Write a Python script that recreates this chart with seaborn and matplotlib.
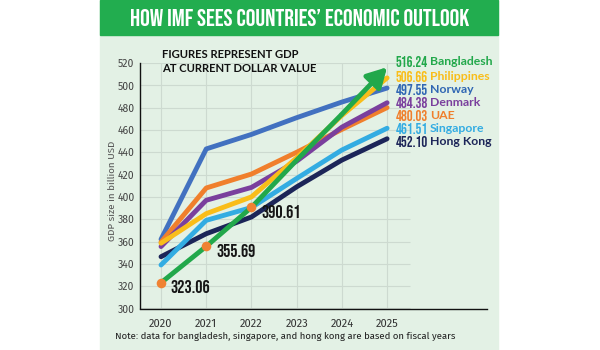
import matplotlib
matplotlib.use("Agg")
import matplotlib.pyplot as plt
import seaborn as sns
import pandas as pd
from matplotlib import font_manager as fm
from matplotlib.patches import Rectangle

# ---------------- data ----------------
years = [2020, 2021, 2022, 2023, 2024, 2025]
bangladesh = [323.06, 355.69, 390.61, 432.9, 474.1, 516.24]
philippines = [358.5, 385.0, 400.0, 435.0, 473.0, 506.66]
norway = [362.0, 443.0, 456.0, 471.0, 485.0, 497.55]
denmark = [355.5, 397.0, 408.5, 432.0, 462.5, 484.38]
uae = [359.5, 408.0, 420.5, 440.0, 460.5, 480.03]
singapore = [339.0, 379.0, 390.5, 416.5, 442.0, 461.51]
hong_kong = [346.4, 367.0, 382.0, 409.0, 433.0, 452.10]
label_order = ["Bangladesh", "Philippines", "Norway", "Denmark", "UAE", "Singapore", "Hong Kong"]
y_ticks = [300, 320, 340, 360, 380, 400, 420, 440, 460, 480, 500, 520]

title = "HOW IMF SEES COUNTRIES\u2019 ECONOMIC OUTLOOK"
subtitle = "FIGURES REPRESENT GDP\nAT CURRENT DOLLAR VALUE"
y_label = "GDP size in billion USD"
note = "Note: data for bangladesh, singapore, and hong kong are based on fiscal years"

series = {
    "Norway": norway,
    "Hong Kong": hong_kong,
    "Singapore": singapore,
    "UAE": uae,
    "Denmark": denmark,
    "Philippines": philippines,
    "Bangladesh": bangladesh,
}
colors = {
    "Bangladesh": "#22a84b",
    "Philippines": "#f9bd19",
    "Norway": "#4271c0",
    "Denmark": "#7a3f9d",
    "UAE": "#f07f2c",
    "Singapore": "#33ace2",
    "Hong Kong": "#1c2558",
}
label_text_colors = dict(colors)
label_text_colors["Norway"] = "#2f66b3"
DOT = "#f08233"
BG = "#e3f1e5"
BAR = "#22ad4f"
GRID = "#cddad0"

# ---------------- fonts ----------------
def _w(x):
    if isinstance(x, int):
        return x
    return {"normal": 400, "regular": 400, "book": 400, "medium": 500,
            "semibold": 600, "demibold": 600, "bold": 700, "heavy": 800,
            "extra bold": 800, "black": 900}.get(str(x).lower(), 400)

weights = {}
for f in fm.fontManager.ttflist:
    if f.style == "normal" and f.stretch == "normal":
        weights.setdefault(f.name, set()).add(_w(f.weight))

def pick(cands, need):
    for n in cands:
        if n in weights and need in weights[n]:
            return n
    return "DejaVu Sans"

CONDENSED = pick(["Bebas Neue", "Oswald", "Barlow Condensed"], 400)
SANS = pick(["Source Sans 3", "Source Sans Pro", "Fira Sans", "Open Sans", "Noto Sans"], 400)
HEAVY = pick(["Montserrat", "Lato", "Open Sans", "Roboto", "Noto Sans"], 700)

W, H = 600, 350
fig = plt.figure(figsize=(W / 100, H / 100), dpi=100)
fig.patch.set_facecolor("white")

def fx(px):
    return px / W

def fy(py):
    return 1 - py / H

fig.patches.append(Rectangle((fx(100), 0), fx(498) - fx(100), 1,
                             transform=fig.transFigure, color=BG, zorder=-5))
fig.patches.append(Rectangle((fx(100), fy(35)), fx(498) - fx(100), 35 / H,
                             transform=fig.transFigure, color=BAR, zorder=-4))

ax = fig.add_axes([fx(140), fy(308.5), fx(487) - fx(140), (308.5 - 63) / H])
ax.set_facecolor(BG)

# grid (only up to the last year)
x0, x1 = 2019.535, 2027.21
ax.hlines(y_ticks, x0, years[-1] + 0.5, color=GRID, lw=0.8, zorder=0.5)
ax.vlines(years, y_ticks[0], y_ticks[-1], color=GRID, lw=0.8, zorder=0.5)

rows = []
for name, vals in series.items():
    for yr, v in zip(years, vals):
        rows.append({"country": name, "year": yr, "gdp": v})
df = pd.DataFrame(rows)

for i, name in enumerate(series):
    sub = df[df["country"] == name]
    if name == "Bangladesh":
        sub = sub.iloc[:-1]
        cap = "butt"
    else:
        cap = "round"
    sns.lineplot(data=sub, x="year", y="gdp", color=colors[name], linewidth=3.5,
                 ax=ax, legend=False, zorder=3 + i, solid_capstyle=cap,
                 solid_joinstyle="round")

# arrow for Bangladesh last segment
ax.annotate("", xy=(years[-1], bangladesh[-1]), xytext=(years[-2], bangladesh[-2]),
            arrowprops=dict(arrowstyle="-|>,head_length=0.9,head_width=0.5",
                            color=colors["Bangladesh"], lw=3.5,
                            shrinkA=0, shrinkB=0, mutation_scale=13),
            zorder=11)

# orange dots with labels
ax.scatter(years[:3], bangladesh[:3], s=48, color=DOT, zorder=12, linewidths=0)
for yr, v in zip(years[:3], bangladesh[:3]):
    ax.annotate(f"{v:.2f}", xy=(yr, v), xytext=(7, -3), textcoords="offset points",
                ha="left", va="center", fontsize=13, family=CONDENSED,
                color="#151515", zorder=13)

ax.set_xlim(x0, x1)
ax.set_ylim(y_ticks[0], y_ticks[-1])
ax.set_xticks(years)
ax.set_xticklabels([str(y) for y in years])
ax.set_yticks(y_ticks)
ax.tick_params(axis="both", length=0)
ax.tick_params(axis="y", pad=4, labelsize=7.5, labelcolor="#444444")
ax.tick_params(axis="x", pad=7, labelsize=8, labelcolor="#333333")
for lab in ax.get_xticklabels() + ax.get_yticklabels():
    lab.set_family(SANS)
    lab.set_fontweight("normal")
ax.set_xlabel("")
ax.set_ylabel("")
for s in ["top", "right"]:
    ax.spines[s].set_visible(False)
for s in ["left", "bottom"]:
    ax.spines[s].set_color("#111111")
    ax.spines[s].set_linewidth(1.0)

# texts
fig.text(fx(300), fy(18), title, ha="center", va="center", color="white",
         fontsize=17.5, family=CONDENSED)
fig.text(fx(162), fy(61.5), subtitle, ha="left", va="center", color="#111111",
         fontsize=8.1, fontweight="bold", family=HEAVY, linespacing=1.4)
fig.text(fx(112), fy(191), y_label, ha="center", va="center", rotation=90,
         color="#555555", fontsize=7, family=SANS, fontweight="normal")
fig.text(fx(115), fy(336), note, ha="left", va="center", color="#222222",
         fontsize=6.9, family=SANS, fontweight="normal")

label_y = [61.5, 76.5, 89.5, 102.5, 115.5, 128.5, 141.5]
for name, py in zip(label_order, label_y):
    v = series[name][-1]
    fig.text(fx(396), fy(py), f"{v:.2f}", ha="left", va="center",
             color=label_text_colors[name], fontsize=10.5, family=CONDENSED)
    fig.text(fx(430), fy(py), name, ha="left", va="center",
             color=label_text_colors[name], fontsize=8.8, fontweight="bold", family=HEAVY)

fig.savefig("out.png", dpi=100, facecolor=fig.get_facecolor())
